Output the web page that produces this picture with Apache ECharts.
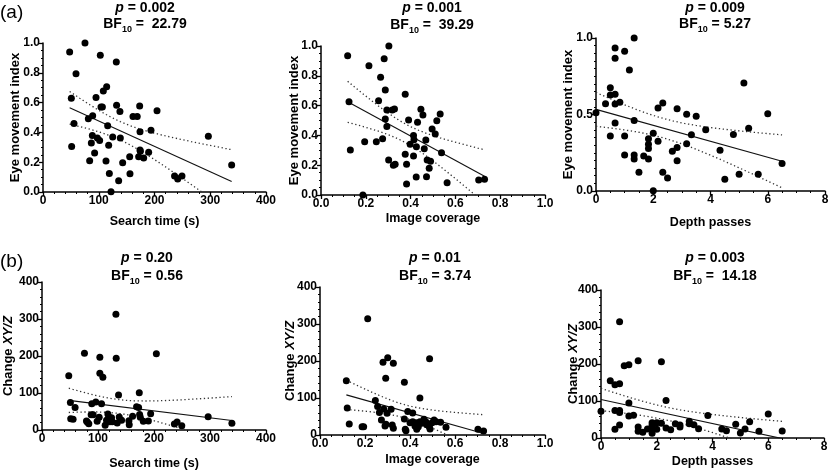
<!DOCTYPE html>
<html><head><meta charset="utf-8">
<script src="https://cdn.jsdelivr.net/npm/echarts@6/dist/echarts.min.js"></script>
<style>html,body{margin:0;padding:0;background:#fff}#c{width:830px;height:471px}</style>
</head><body><div id="c"></div>
<script>
// ---- Panel (a) left: search time vs eye movement index
const searchTimeA = [47.8,75.3,59.2,102.8,131.5,50.8,55.6,51.4,114.2,108.2,95.1,104,106.5,132,138,81.3,89.1,116,88.5,97.5,101.6,86.7,92.6,117.8,125,138.7,83.7,113,119,135.7,122,142.9,155.5,156,161.4,169,173.4,174,171.6,174,174.6,180.6,189.5,193.7,204.5,236,241.6,249.3,296.6,338.4];
const eyeIndexA1 = [0.94,1.0,0.794,0.917,0.872,0.629,0.459,0.306,0.707,0.678,0.635,0.570,0.570,0.582,0.541,0.492,0.512,0.445,0.380,0.362,0.345,0.329,0.262,0.313,0.369,0.362,0.210,0.208,0.125,0.076,0.002,0.197,0.237,0.123,0.506,0.506,0.577,0.405,0.237,0.282,0.273,0.228,0.266,0.414,0.546,0.107,0.087,0.107,0.374,0.181];
// ---- Panel (a) middle: image coverage vs eye movement index
const coverageA = [0.119,0.303,0.214,0.282,0.266,0.287,0.257,0.125,0.376,0.294,0.318,0.328,0.446,0.455,0.532,0.287,0.391,0.431,0.517,0.294,0.496,0.510,0.413,0.415,0.398,0.468,0.275,0.195,0.247,0.131,0.426,0.461,0.538,0.376,0.413,0.302,0.474,0.489,0.331,0.323,0.382,0.483,0.425,0.471,0.382,0.563,0.704,0.730,0.187];
const eyeIndexA2 = [0.935,1.0,0.868,0.915,0.790,0.705,0.633,0.626,0.676,0.570,0.570,0.577,0.575,0.537,0.544,0.510,0.503,0.488,0.499,0.459,0.443,0.409,0.400,0.371,0.340,0.369,0.378,0.358,0.358,0.302,0.324,0.311,0.284,0.273,0.262,0.235,0.235,0.226,0.206,0.199,0.206,0.179,0.121,0.123,0.074,0.083,0.101,0.105,0.0];
// ---- Panel (a) right: depth passes vs eye movement index
const depthA = [0,0.333,0.5,0.5,0.667,0.667,0.667,0.667,0.833,0.667,0.5,1.0,1.333,1.167,1.333,1.0,1.0,1.333,1.333,1.5,1.667,1.833,1.833,1.833,1.833,2.0,2.0,2.167,2.167,2.333,2.333,2.5,2.667,2.833,2.833,2.833,3.167,3.167,3.333,3.5,3.833,4.333,4.5,4.8,5.0,5.167,5.333,5.667,6.0,6.5];
const eyeIndexA3 = [0.512,0.571,0.675,0.627,0.935,0.867,0.632,0.569,0.580,0.444,0.359,0.913,1.0,0.791,0.460,0.359,0.235,0.235,0.209,0.122,0.229,0.342,0.305,0.277,0.209,0.377,0.002,0.542,0.325,0.575,0.122,0.085,0.259,0.538,0.285,0.198,0.501,0.309,0.368,0.488,0.401,0.266,0.076,0.370,0.109,0.706,0.410,0.109,0.505,0.179];
// ---- Panel (b) left: search time vs change XY/Z
const searchTimeB = [47.8,75.8,103.3,132,132.5,204.2,103.3,108.7,136.7,173.7,50.7,59.1,51.3,55.5,79.4,81.2,83.6,87.8,91.3,88.9,96.1,98.5,102.1,106.3,112.8,115.2,117.6,119.4,121.2,124.2,125.4,134.3,137.9,142.1,155.2,155.8,161.8,168.9,172.5,174.3,175.5,180.9,189.9,194,236.4,241.2,249.6,296.7,339.1];
const changeB1 = [146.5,207.6,196.9,312.8,194.2,205.8,153.7,142.9,94.4,100.7,74.6,61.1,30.6,28.8,24.3,20.7,17.1,41.3,41.3,71.0,75.5,23.4,34.2,71.0,12.6,26.1,43.1,35.1,22.5,33.3,22.5,18.9,35.1,26.1,25.2,14.4,36.9,62.9,61.1,42.2,34.2,23.4,24.3,44.0,16.2,21.6,11.7,36.0,18.0];
// ---- Panel (b) middle: image coverage vs change XY/Z
const coverageB = [0.117,0.212,0.301,0.280,0.326,0.292,0.375,0.487,0.444,0.246,0.121,0.256,0.264,0.283,0.316,0.298,0.390,0.412,0.273,0.375,0.130,0.187,0.194,0.289,0.293,0.321,0.326,0.379,0.382,0.400,0.412,0.422,0.427,0.430,0.437,0.444,0.452,0.462,0.470,0.474,0.486,0.489,0.498,0.507,0.516,0.536,0.560,0.702,0.727];
const changeB2 = [146.3,314.2,208.6,196.8,194.1,153.5,142.7,205.9,100.2,93.0,73.1,76.7,60.5,70.4,69.5,58.7,63.2,59.6,40.6,43.3,29.8,22.6,22.6,24.4,28.9,27.1,18.1,15.3,11.7,33.4,36.1,24.4,33.4,15.3,22.6,36.1,31.6,42.4,36.1,28.0,22.6,16.3,33.4,40.6,36.1,34.3,20.8,15.3,10.8];
// ---- Panel (b) right: depth passes vs change XY/Z
const depthB = [0,0.333,0.5,0.667,0.667,0.833,1.0,1.333,2.167,2.333,1.0,0.5,0.667,0.667,1.0,1.167,0.667,0.5,1.333,1.333,1.5,1.667,1.833,1.833,1.833,1.833,2.0,2.0,2.167,2.333,2.5,2.667,2.833,2.833,3.167,3.167,3.333,3.5,3.833,4.333,4.5,4.833,5.0,5.167,5.333,5.667,6.0,6.5];
const changeB3 = [72.2,154.4,143.6,146.3,314.2,195,197.7,208.6,205.9,101.1,94.8,74.1,74.1,68.6,59.6,61.4,35.2,23.5,29.8,18.1,15.3,24.4,41.5,34.3,28.0,12.6,41.5,23.5,39.7,27.1,22.6,38.8,35.2,29.8,45.1,38.8,36.1,25.3,60.5,24.4,19.9,37.0,13.5,24.4,44.2,18.1,65.0,19.0];

// ---- Texts
const pValues = ['0.002','0.001','0.009','0.20','0.01','0.003'];
const bfValues = [' =  22.79',' =  39.29',' = 5.27',' = 0.56',' = 3.74',' =  14.18'];
const xNames = ['Search time (s)','Image coverage','Depth passes','Search time (s)','Image coverage','Depth passes'];
const panelLabels = ['(a)','(b)'];

const FONT = '"Liberation Sans", Arial, Helvetica, sans-serif';

function fit(xs, ys) {
  const n = xs.length;
  let mx = 0, my = 0;
  for (let i = 0; i < n; i++) { mx += xs[i]; my += ys[i]; }
  mx /= n; my /= n;
  let sxx = 0, sxy = 0;
  for (let i = 0; i < n; i++) { sxx += (xs[i]-mx)*(xs[i]-mx); sxy += (xs[i]-mx)*(ys[i]-my); }
  const b = sxy / sxx, a = my - b * mx;
  let sse = 0;
  for (let i = 0; i < n; i++) { const r = ys[i] - (a + b * xs[i]); sse += r*r; }
  const s = Math.sqrt(sse / (n - 2));
  const t = 2.012;
  const x0 = Math.min(...xs), x1 = Math.max(...xs);
  const line = [[x0, a + b*x0], [x1, a + b*x1]];
  const up = [], lo = [];
  const N = 80;
  for (let k = 0; k <= N; k++) {
    const x = x0 + (x1 - x0) * k / N;
    const yh = a + b * x;
    const se = s * Math.sqrt(1/n + (x-mx)*(x-mx)/sxx);
    up.push([x, yh + t*se]); lo.push([x, yh - t*se]);
  }
  return {line, up, lo};
}

const panels = [
  {xs: searchTimeA, ys: eyeIndexA1, grid:{left:43, top:43, width:223, height:149}, xMax:400, xInt:100, yMax:1, yInt:0.2, xFmt:null, yFmt:1, yName:'Eye movement index', xGap:23, yGap:21, yMinor:4, xMinor:5},
  {xs: coverageA, ys: eyeIndexA2, grid:{left:321, top:46, width:224, height:149}, xMax:1, xInt:0.2, yMax:1, yInt:0.2, xFmt:1, yFmt:1, yName:'Eye movement index', xGap:17, yGap:20, yMinor:4, xMinor:4},
  {xs: depthA, ys: eyeIndexA3, grid:{left:596, top:38, width:229, height:153}, xMax:8, xInt:2, yMax:1, yInt:0.5, xFmt:null, yFmt:1, yName:'Eye movement index', xGap:25, yGap:21, yMinor:10, xMinor:4},
  {xs: searchTimeB, ys: changeB1, grid:{left:42, top:282, width:224, height:148}, xMax:400, xInt:100, yMax:400, yInt:100, xFmt:null, yFmt:null, yName:'Change {i|XY/Z}', xGap:27, yGap:27, yMinor:5, xMinor:5},
  {xs: coverageB, ys: changeB2, grid:{left:320, top:287, width:225, height:148}, xMax:1, xInt:0.2, yMax:400, yInt:100, xFmt:1, yFmt:null, yName:'Change {i|XY/Z}', xGap:18, yGap:23, yMinor:5, xMinor:4},
  {xs: depthB, ys: changeB3, grid:{left:601, top:290, width:223, height:148}, xMax:8, xInt:2, yMax:400, yInt:100, xFmt:null, yFmt:null, yName:'Change {i|XY/Z}', xGap:17, yGap:21, yMinor:5, xMinor:4}
];
const titlePos = [[145,8,24],[432,8,25],[715,8,24],[147,258,276],[435,258,276],[715,258,276]];

const grids = [], xAxes = [], yAxes = [], series = [], graphics = [];
const axisCommon = {
  axisLine: {show: true, onZero: false, lineStyle: {color: '#000', width: 1.5}},
  axisTick: {show: true, inside: false, length: 4, lineStyle: {color: '#000', width: 1.3}},
  minorTick: {show: true, length: 2, lineStyle: {color: '#000', width: 1}},
  splitLine: {show: false},
  axisLabel: {color: '#000', fontFamily: FONT, fontWeight: 'bold', fontSize: 12, margin: 3}
};
panels.forEach((p, i) => {
  grids.push(Object.assign({containLabel: false, outerBoundsMode: 'none'}, p.grid));
  xAxes.push(Object.assign({}, axisCommon, {
    gridIndex: i, type: 'value', min: 0, max: p.xMax, interval: p.xInt,
    minorTick: Object.assign({}, axisCommon.minorTick, {splitNumber: p.xMinor}),
    axisLabel: Object.assign({}, axisCommon.axisLabel, {formatter: p.xFmt ? (v => v.toFixed(p.xFmt)) : (v => String(v))}),
    name: xNames[i], nameLocation: 'middle', nameGap: p.xGap, nameMoveOverlap: false,
    nameTextStyle: {color: '#000', fontFamily: FONT, fontWeight: 'bold', fontSize: 12.5}
  }));
  yAxes.push(Object.assign({}, axisCommon, {
    gridIndex: i, type: 'value', min: 0, max: p.yMax, interval: p.yInt,
    minorTick: Object.assign({}, axisCommon.minorTick, {splitNumber: p.yMinor}),
    axisLabel: Object.assign({}, axisCommon.axisLabel, {formatter: p.yFmt ? (v => v.toFixed(p.yFmt)) : (v => String(v))}),
    name: p.yName, nameLocation: 'middle', nameGap: p.yGap, nameRotate: 90, nameMoveOverlap: false,
    nameTextStyle: {color: '#000', fontFamily: FONT, fontWeight: 'bold', fontSize: 13,
      rich: {i: {fontStyle: 'italic', fontWeight: 'bold', fontFamily: FONT, fontSize: 13, color: '#000'}}}
  }));
  const f = fit(p.xs, p.ys);
  const bandStyle = {color: '#333', width: 1.3, type: [1.3, 2.6]};
  series.push({type: 'line', xAxisIndex: i, yAxisIndex: i, data: f.up, showSymbol: false, symbol: 'none', lineStyle: bandStyle, clip: true, silent: true, z: 2});
  series.push({type: 'line', xAxisIndex: i, yAxisIndex: i, data: f.lo, showSymbol: false, symbol: 'none', lineStyle: bandStyle, clip: true, silent: true, z: 2});
  series.push({type: 'line', xAxisIndex: i, yAxisIndex: i, data: f.line, showSymbol: false, symbol: 'none', lineStyle: {color: '#111', width: 1.1}, clip: true, silent: true, z: 3});
  series.push({type: 'scatter', xAxisIndex: i, yAxisIndex: i, data: p.xs.map((x, k) => [x, p.ys[k]]), symbol: 'circle', symbolSize: 7, itemStyle: {color: '#000', opacity: 1}, clip: false, z: 4});

  const tp = titlePos[i];
  graphics.push({type: 'text', x: tp[0], y: tp[1], style: {
    text: '{i|p}{n| = ' + pValues[i] + '}', fill: '#000', align: 'center', verticalAlign: 'middle',
    fontFamily: FONT, fontWeight: 'bold', fontSize: 14,
    rich: {i: {fontStyle: 'italic', fontWeight: 'bold', fontFamily: FONT, fontSize: 14, fill: '#000', lineHeight: 18},
           n: {fontWeight: 'bold', fontFamily: FONT, fontSize: 14, fill: '#000', lineHeight: 18}}}});
  graphics.push({type: 'text', x: tp[0], y: tp[2], style: {
    text: '{n|BF}{s|10}{n|' + bfValues[i] + '}', fill: '#000', align: 'center', verticalAlign: 'middle',
    fontFamily: FONT, fontWeight: 'bold', fontSize: 14,
    rich: {n: {fontWeight: 'bold', fontFamily: FONT, fontSize: 14, fill: '#000', lineHeight: 20},
           s: {fontWeight: 'bold', fontFamily: FONT, fontSize: 9, fill: '#000', lineHeight: 10, verticalAlign: 'bottom'}}}});
});
graphics.push({type: 'text', x: 0, y: 13, style: {text: panelLabels[0], fill: '#000', fontFamily: FONT, fontSize: 19, verticalAlign: 'middle', align: 'left'}});
graphics.push({type: 'text', x: 0, y: 262, style: {text: panelLabels[1], fill: '#000', fontFamily: FONT, fontSize: 19, verticalAlign: 'middle', align: 'left'}});

const chart = echarts.init(document.getElementById('c'), null, {renderer: 'canvas'});
chart.setOption({
  animation: false,
  backgroundColor: '#fff',
  grid: grids, xAxis: xAxes, yAxis: yAxes, series: series, graphic: graphics
});
</script></body></html>
